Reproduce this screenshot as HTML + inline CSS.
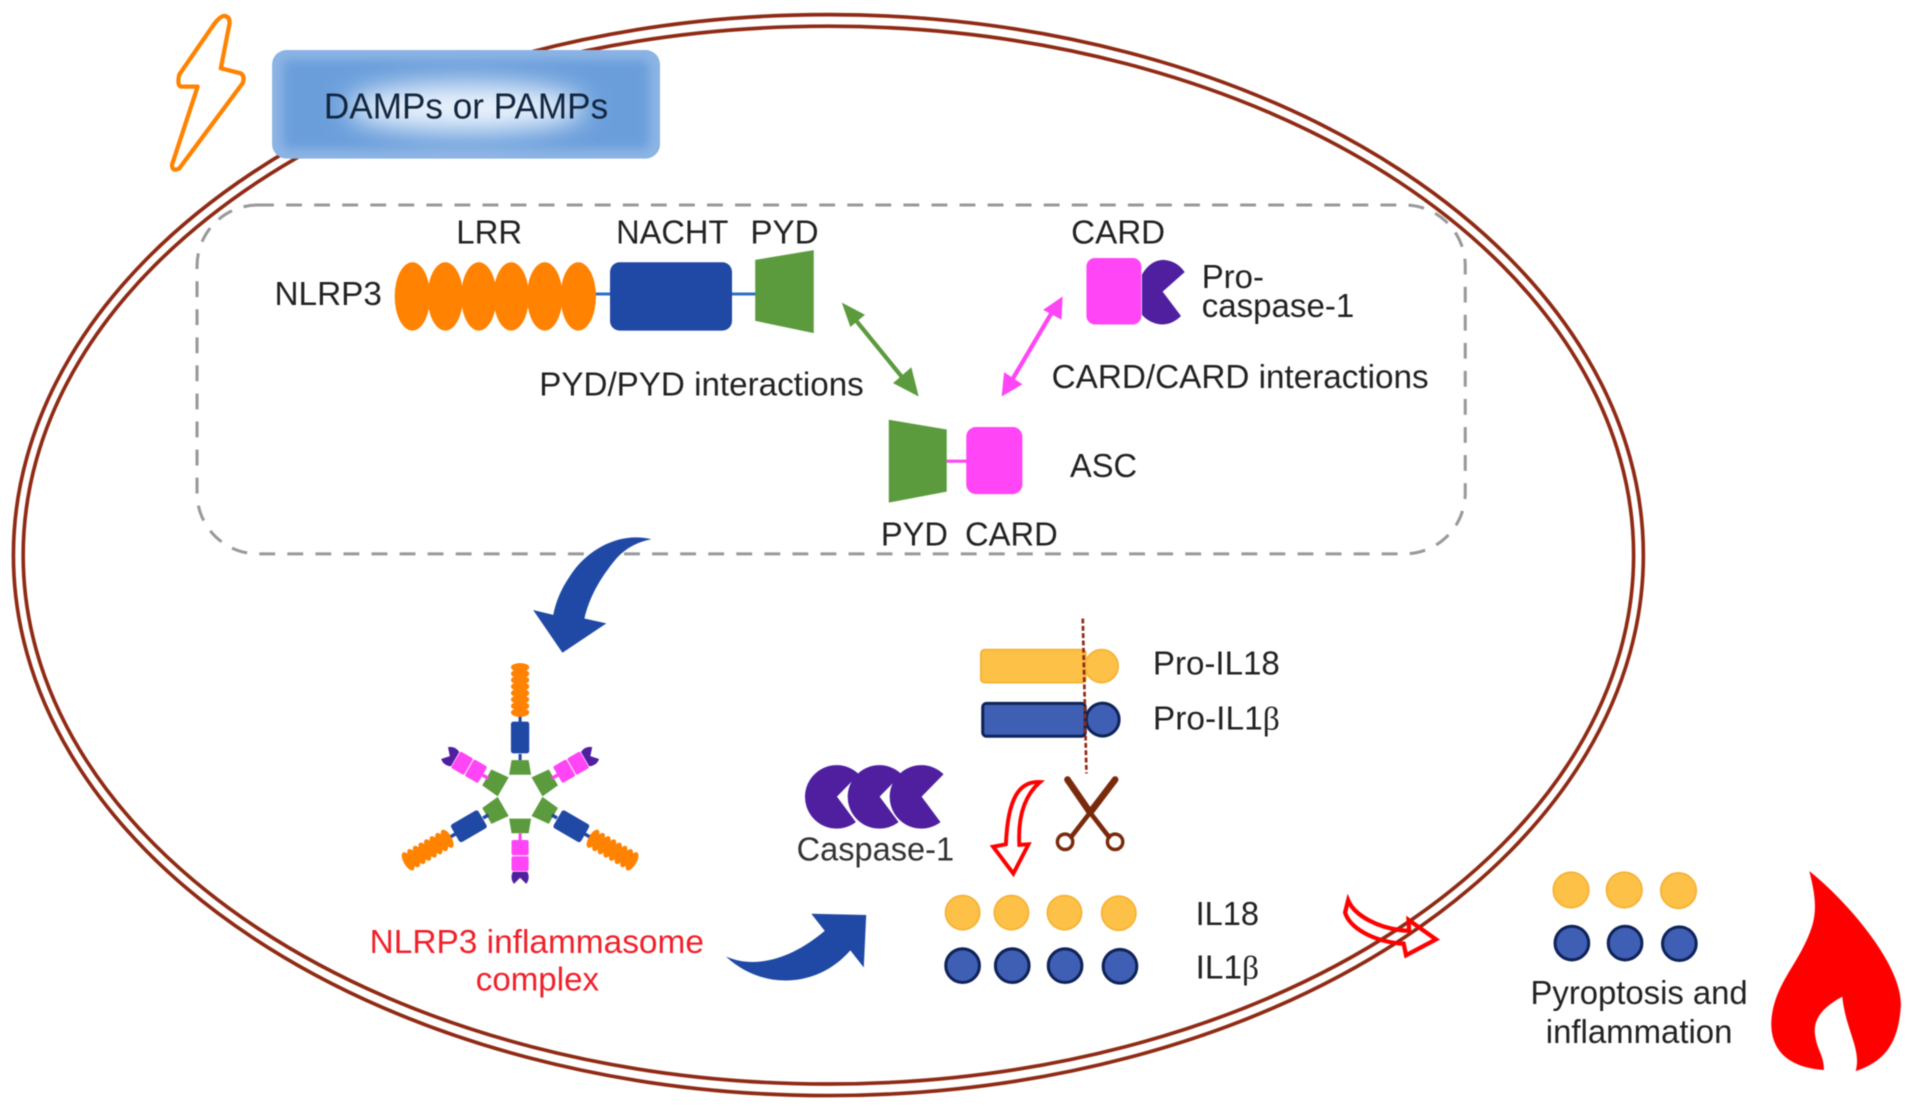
<!DOCTYPE html>
<html><head><meta charset="utf-8"><style>
html,body{margin:0;padding:0;background:#fff}
svg{display:block;filter:blur(.5px)}
text{font-family:"Liberation Sans",sans-serif;font-size:27px;fill:#222}
.s{font-family:"Liberation Serif",serif}
</style></head><body>
<svg xmlns="http://www.w3.org/2000/svg" width="1913" height="1109" viewBox="0 0 1568 909">
<defs>
<filter id="b" x="-40%" y="-100%" width="180%" height="300%"><feGaussianBlur stdDeviation="11"/></filter>
<filter id="b2" x="-10%" y="-30%" width="120%" height="160%"><feGaussianBlur stdDeviation="4"/></filter>
<clipPath id="c"><rect x="223" y="41" width="318" height="89" rx="12"/></clipPath>
<g id="nl">
<path d="M0,-30V-35M0,-61V-68" stroke="#1f49a5" stroke-width="2.500"/>
<rect x="-7.500" y="-61.500" width="15" height="26" rx="2" fill="#1f49a5"/>
<g fill="#ff8200"><ellipse cy="-69" rx="7.500" ry="3.600"/><ellipse cy="-74.300" rx="7.500" ry="3.600"/><ellipse cy="-79.600" rx="7.500" ry="3.600"/><ellipse cy="-84.900" rx="7.500" ry="3.600"/><ellipse cy="-90.200" rx="7.500" ry="3.600"/><ellipse cy="-95.500" rx="7.500" ry="3.600"/><ellipse cy="-100.800" rx="7.500" ry="3.600"/><ellipse cy="-106" rx="7.500" ry="3.600"/></g>
</g>
<g id="as">
<path d="M0,-30V-36" stroke="#ff45f5" stroke-width="2.500"/>
<rect x="-7" y="-48" width="14" height="12.500" rx="1.500" fill="#ff45f5"/>
<rect x="-7" y="-61" width="14" height="12.200" rx="1.500" fill="#ff45f5"/>
<path d="M-6,-61.500H6Q8.500,-67 5,-71.500L0,-66.500L-5,-71.500Q-8.500,-67 -6,-61.500Z" fill="#4f1f9f"/>
</g>
<path id="gt" d="M-7,-30H7L9,-18H-9Z" fill="#5b9b3e"/>
<path id="gs" d="M-7.500,-31.500H7.500L9,-16H-9Z" fill="#5b9b3e"/>
<path id="pc" d="M18,-18.400A26,26 0 1 0 15.500,20.900L0,0Z" fill="#4f1f9f"/>
</defs>

<ellipse cx="679" cy="455" rx="668" ry="443" fill="none" stroke="#8f2a14" stroke-width="3"/>
<ellipse cx="679" cy="455" rx="660" ry="433.500" fill="none" stroke="#8f2a14" stroke-width="3"/>

<path d="M184,13Q189,14 188,20L181,56L197,60Q201,62 199,68L147,138Q141,141 141,135L162,71L148,71Q145,69 147,61L176,19Q181,13 184,13Z" fill="#fff" stroke="#ff8200" stroke-width="3.500" stroke-linejoin="round"/>

<rect x="223" y="41" width="318" height="89" rx="12" fill="#8cb4e4"/>
<g clip-path="url(#c)">
<rect x="232" y="49" width="300" height="73" rx="6" fill="#6a9edb" filter="url(#b2)"/>
<ellipse cx="382" cy="88" rx="98" ry="20" fill="#eaf3fc" filter="url(#b)"/>
</g>
<text x="265.500" y="97" textLength="233" lengthAdjust="spacingAndGlyphs" style="font-size:29.500px;fill:#12263f">DAMPs or PAMPs</text>

<rect x="161.500" y="168" width="1039.500" height="286" rx="50" fill="none" stroke="#999" stroke-width="2.500" stroke-dasharray="13 10"/>

<text x="374" y="199.500" textLength="54" lengthAdjust="spacingAndGlyphs">LRR</text>
<text x="505" y="199.500" textLength="92" lengthAdjust="spacingAndGlyphs">NACHT</text>
<text x="615" y="199.500" textLength="56" lengthAdjust="spacingAndGlyphs">PYD</text>
<text x="878" y="199.500" textLength="77" lengthAdjust="spacingAndGlyphs">CARD</text>
<text x="225" y="250" textLength="88" lengthAdjust="spacingAndGlyphs">NLRP3</text>

<path d="M486,241H620" stroke="#2f6fc4" stroke-width="2.500"/>
<g fill="#ff8200"><ellipse cx="338" cy="243" rx="14.500" ry="28"/><ellipse cx="365" cy="243" rx="14.500" ry="28"/><ellipse cx="392.500" cy="243" rx="14.500" ry="28"/><ellipse cx="419" cy="243" rx="14.500" ry="28"/><ellipse cx="446.500" cy="243" rx="14.500" ry="28"/><ellipse cx="474" cy="243" rx="14.500" ry="28"/></g>
<rect x="500" y="215" width="100" height="56" rx="8" fill="#1f49a5"/>
<path d="M619,213L667,205V273L619,263Z" fill="#5b9b3e"/>

<rect x="890.500" y="211.500" width="45" height="54.500" rx="7" fill="#ff45f5"/>
<path d="M936,225Q943,213 954,213Q965,214 971,223L953,239L968,259Q961,266 952,266Q942,265 936,258Z" fill="#4f1f9f"/>
<text x="985" y="236" textLength="51" lengthAdjust="spacingAndGlyphs">Pro-</text>
<text x="985" y="260" textLength="125" lengthAdjust="spacingAndGlyphs">caspase-1</text>

<path d="M697,257L745,316" stroke="#5b9b3e" stroke-width="3.500"/>
<path d="M690,248L709,258L697,268Z M753,325L732,314L747,301Z" fill="#5b9b3e"/>
<path d="M864,253L828,314" stroke="#ff45f5" stroke-width="3.500"/>
<path d="M871,243L870,262L855,254Z M821,325L823,305L838,315Z" fill="#ff45f5"/>

<text x="442" y="324" textLength="266" lengthAdjust="spacingAndGlyphs">PYD/PYD interactions</text>
<text x="862" y="318" textLength="309" lengthAdjust="spacingAndGlyphs">CARD/CARD interactions</text>

<path d="M776,378H794" stroke="#ff45f5" stroke-width="2.500"/>
<path d="M728.500,344L776,352V403L728.500,412Z" fill="#5b9b3e"/>
<rect x="792" y="350" width="46" height="55" rx="8" fill="#ff45f5"/>
<text x="877" y="391" textLength="55" lengthAdjust="spacingAndGlyphs">ASC</text>
<text x="722" y="447" textLength="55" lengthAdjust="spacingAndGlyphs">PYD</text>
<text x="791" y="447" textLength="76" lengthAdjust="spacingAndGlyphs">CARD</text>

<path d="M534,442C510,436 485,448 470,468C460,482 456,492 453.500,504L437,500L461,535L497,511L479,507C483,490 491,475 505,458C513,449 523,444 534,442Z" fill="#1f49a5"/>

<g transform="translate(426.300,653)">
<use href="#gt"/><use href="#nl"/>
<use href="#gs" transform="rotate(120)"/><use href="#nl" transform="rotate(120) scale(1.12,1)"/>
<use href="#gs" transform="rotate(240)"/><use href="#nl" transform="rotate(240) scale(1.12,1)"/>
<use href="#gs" transform="rotate(60)"/><use href="#as" transform="rotate(60) scale(1.12,1)"/>
<use href="#gt" transform="rotate(180)"/><use href="#as" transform="rotate(180)"/>
<use href="#gs" transform="rotate(300)"/><use href="#as" transform="rotate(300) scale(1.12,1)"/>
</g>

<text x="303" y="781" textLength="274" lengthAdjust="spacingAndGlyphs" style="fill:#f0202a">NLRP3 inflammasome</text>
<text x="390" y="812" textLength="101" lengthAdjust="spacingAndGlyphs" style="fill:#f0202a">complex</text>

<path d="M595,784C620,795 650,785 676,763L665,749L710,750L708,793L697,779C670,810 625,812 595,784Z" fill="#1f49a5"/>

<use href="#pc" x="686" y="653"/>
<use href="#pc" x="721" y="653"/>
<use href="#pc" x="755.400" y="653"/>
<text x="653" y="705.500" textLength="129" lengthAdjust="spacingAndGlyphs" style="fill:#333">Caspase-1</text>

<rect x="804" y="532.500" width="86" height="27" rx="3" fill="#fdc148" stroke="#f5b335" stroke-width="1.500"/>
<circle cx="903" cy="546" r="13.500" fill="#fdc148" stroke="#f5b335" stroke-width="1.500"/>
<rect x="805.500" y="576.500" width="84" height="27" rx="3" fill="#3f5fb5" stroke="#0f2358" stroke-width="2.500"/>
<circle cx="903.800" cy="589.800" r="13.500" fill="#3f5fb5" stroke="#0f2358" stroke-width="2.500"/>
<path d="M887.500,507L890.500,634" stroke="#8f2a14" stroke-width="2.200" stroke-dasharray="4 2"/>
<text x="945" y="553" textLength="104" lengthAdjust="spacingAndGlyphs">Pro-IL18</text>
<text x="945" y="598" textLength="104" lengthAdjust="spacingAndGlyphs">Pro-IL1<tspan class="s">β</tspan></text>

<path d="M852.500,641C835,640 826,655 824.500,692L814,694L830.600,716L843,692L835.500,692.500C834,665 842,650 852.500,641Z" fill="#fff" stroke="#f00" stroke-width="3.200"/>

<g fill="none" stroke="#7a2a0c" stroke-linecap="round">
<path d="M875,639L893.500,666M914,639L893.500,666" stroke-width="5.500"/>
<path d="M893.500,666L909,686M893.500,666L878,686" stroke-width="3.800"/>
<circle cx="914" cy="690" r="6.300" stroke-width="2.800"/>
<circle cx="873" cy="690" r="6.300" stroke-width="2.800"/>
</g>

<g fill="#fdc148" stroke="#f5b335" stroke-width="1.500">
<circle cx="789" cy="748" r="14"/><circle cx="829" cy="748" r="14"/><circle cx="872.500" cy="748" r="14"/><circle cx="917" cy="748.500" r="14"/>
<circle cx="1287.700" cy="729.500" r="14.500"/><circle cx="1331.300" cy="729.500" r="14.500"/><circle cx="1375.800" cy="730" r="14.500"/>
</g>
<g fill="#3f5fb5" stroke="#0f2358" stroke-width="2.500">
<circle cx="789" cy="791.500" r="13.800"/><circle cx="829.700" cy="791.500" r="13.800"/><circle cx="873" cy="791.500" r="13.800"/><circle cx="918" cy="792" r="13.800"/>
<circle cx="1288.400" cy="773" r="13.800"/><circle cx="1332" cy="773" r="13.800"/><circle cx="1376.500" cy="773.500" r="13.800"/>
</g>
<text x="980" y="758" textLength="52" lengthAdjust="spacingAndGlyphs">IL18</text>
<text x="980" y="802" textLength="52" lengthAdjust="spacingAndGlyphs">IL1<tspan class="s">β</tspan></text>

<path d="M1105,738C1110,750 1130,762 1155,763L1154.500,754L1177,770L1152.500,783L1150.500,773.500C1125,772 1106,760 1102.500,748Z" fill="none" stroke="#f00" stroke-width="3.500"/>

<text x="1254.500" y="823" textLength="178" lengthAdjust="spacingAndGlyphs">Pyroptosis and</text>
<text x="1267" y="855" textLength="153" lengthAdjust="spacingAndGlyphs">inflammation</text>

<path d="M1483,714C1510,735 1560,790 1558,825C1556,855 1545,870 1521,878C1526,860 1513,845 1510,817C1495,825 1485,835 1488,850C1490,862 1495,865 1495,877C1465,875 1450,860 1452,835C1455,805 1475,790 1485,760C1490,745 1487,730 1483,714Z" fill="#f00"/>
</svg>
</body></html>
